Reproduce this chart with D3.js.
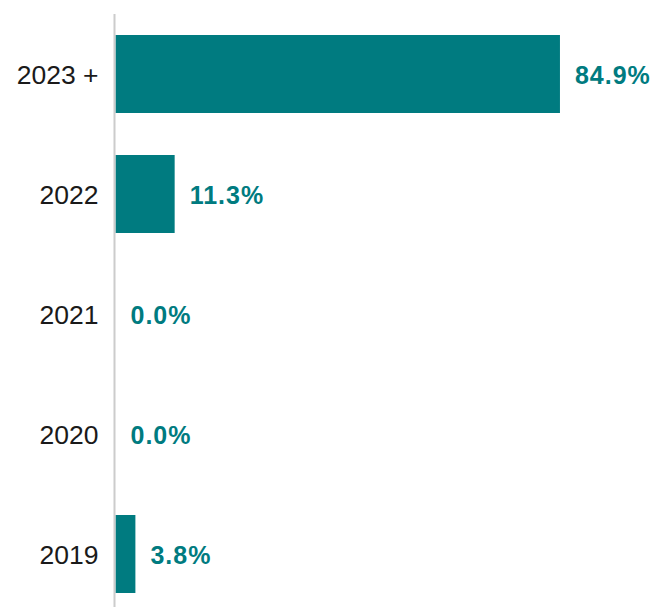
<!DOCTYPE html>
<html>
<head>
<meta charset="utf-8">
<script src="https://cdn.jsdelivr.net/npm/d3@7"></script>
<style>
  html, body { margin: 0; padding: 0; background: #fff; }
  svg { display: block; }
</style>
</head>
<body>
<svg id="chart"></svg>
<script>
// Data
const categories = ['2023 +', '2022', '2021', '2020', '2019'];
const shares = [84.9, 11.3, 0.0, 0.0, 3.8];

const width = 655;
const height = 607;
const teal = '#007b80';

const svg = d3.select('#chart')
  .attr('width', width)
  .attr('height', height);

const y = d3.scaleBand()
  .domain(categories)
  .range([14, 614])
  .paddingInner(0.35)
  .paddingOuter(0.175);

const x = d3.scaleLinear()
  .domain([0, 100])
  .range([115.5, 639]);

const rows = categories.map((c, i) => ({ category: c, value: shares[i] }));

// Bars
svg.append('g')
  .selectAll('rect')
  .data(rows)
  .join('rect')
  .attr('x', x(0))
  .attr('y', (d) => y(d.category))
  .attr('width', (d) => x(d.value) - x(0))
  .attr('height', y.bandwidth())
  .attr('fill', teal);

// Value labels
svg.append('g')
  .selectAll('text')
  .data(rows)
  .join('text')
  .attr('x', (d) => x(d.value) + 15)
  .attr('y', (d) => y(d.category) + y.bandwidth() / 2)
  .attr('dy', '0.4em')
  .attr('fill', teal)
  .attr('font-family', 'Liberation Sans, Arial, sans-serif')
  .attr('font-size', 25)
  .attr('font-weight', 'bold')
  .attr('letter-spacing', 1)
  .text((d) => `${d.value.toFixed(1)}%`);

// Category axis
const axis = svg.append('g')
  .attr('transform', `translate(${x(0) - 1},0)`)
  .call(d3.axisLeft(y).tickSize(0).tickPadding(16));

axis.select('.domain').remove();
axis.selectAll('text')
  .attr('font-family', 'Liberation Sans, Arial, sans-serif')
  .attr('font-size', 26.5)
  .attr('fill', '#1a1a1a')
  .attr('dy', '0.38em');

svg.append('line')
  .attr('x1', x(0) - 1)
  .attr('x2', x(0) - 1)
  .attr('y1', 14)
  .attr('y2', height)
  .attr('stroke', '#cccccc')
  .attr('stroke-width', 2);
</script>
</body>
</html>
